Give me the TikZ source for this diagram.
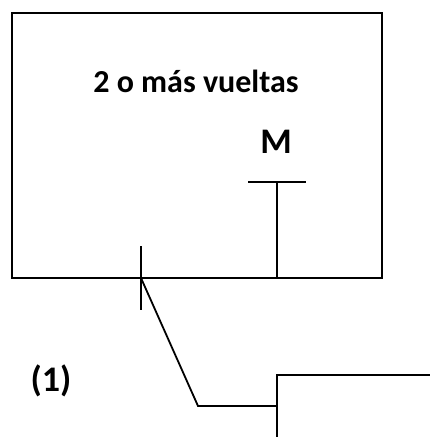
\documentclass[tikz,border=0pt]{standalone}
\usepackage{fontspec}
\setmainfont{Carlito}
\usepackage{tikz}

\begin{document}
\begin{tikzpicture}[x=1pt,y=-1pt,line width=1.8pt,
        lbl/.style={font=\fontsize{32}{36}\selectfont\bfseries,inner sep=0pt,anchor=base}]
        \useasboundingbox (0,0) rectangle (430,437);
        % caja
        \draw (12,13) rectangle (382,278);
        \node[lbl] (vueltas) at (196,92) {2 o más vueltas};
        \node[lbl,font=\fontsize{36}{40}\selectfont\bfseries] (emme) at (276,153) {M};
        \node[lbl,font=\fontsize{36}{40}\selectfont\bfseries] (uno) at (51,391) {(1)};
        % contacto M
        \coordinate (mtop) at (277,182);
        \coordinate (mbot) at (277,278);
        \draw (248,182) -- (306,182);
        \draw (mtop) -- (mbot);
        % marca y linea
        \coordinate (cruce) at (141,278);
        \coordinate (codo) at (198,406);
        \coordinate (junta) at (277,406);
        \coordinate (esq) at (277,375);
        \draw (141,246) -- (141,310);
        \draw (cruce) -- (codo) -- (junta);
        \draw (277,437) -- (esq) -- (430,375);
    \end{tikzpicture}
\end{document}
